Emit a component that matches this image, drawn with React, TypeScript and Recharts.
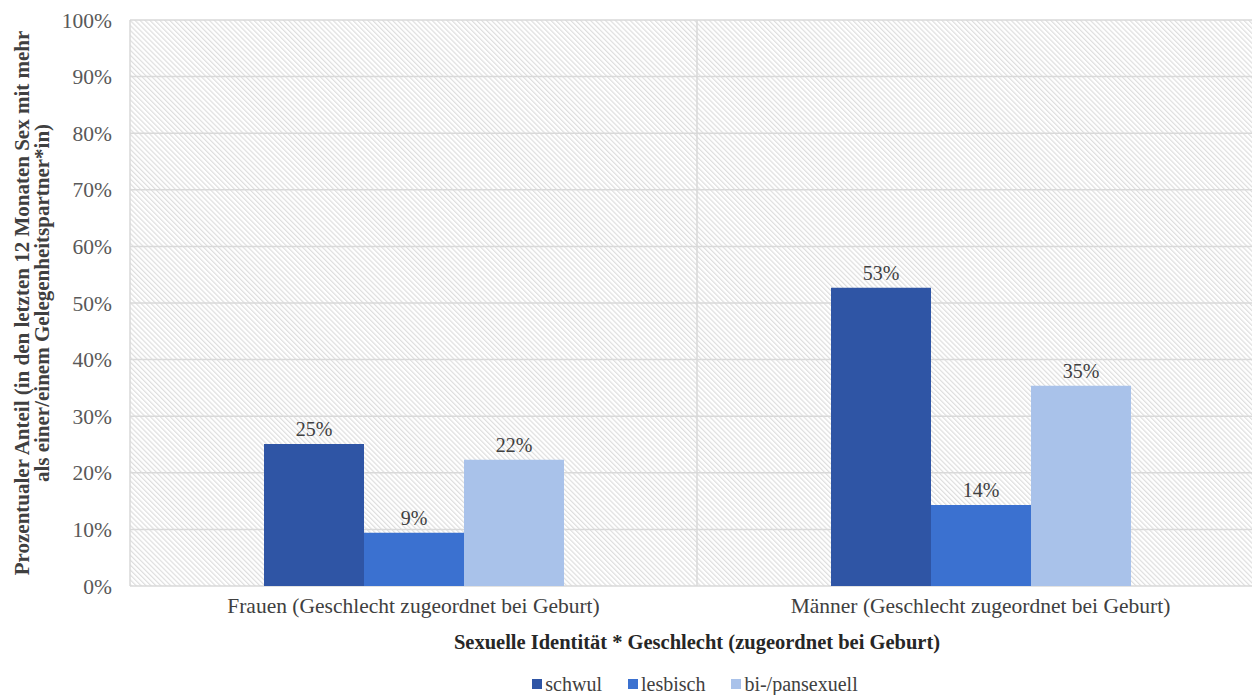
import { BarChart, Bar, XAxis, YAxis, CartesianGrid, Legend, LabelList } from "recharts";

// Kategorien und Werte
const categories = [
  "Frauen (Geschlecht zugeordnet bei Geburt)",
  "Männer (Geschlecht zugeordnet bei Geburt)",
];
const schwul = [25.1, 52.7];
const lesbisch = [9.4, 14.3];
const biPan = [22.3, 35.4];
const yTicks = [0, 10, 20, 30, 40, 50, 60, 70, 80, 90, 100];

const SERIES = [
  { key: "schwul", name: "schwul", color: "#2f55a5" },
  { key: "lesbisch", name: "lesbisch", color: "#3b71d0" },
  { key: "bi", name: "bi-/pansexuell", color: "#a9c2ea" },
];

const data = categories.map((c, i) => ({
  cat: c,
  schwul: schwul[i],
  lesbisch: lesbisch[i],
  bi: biPan[i],
}));

const FONT = '"Liberation Serif", "Times New Roman", serif';

function YTitle(props: any) {
  const { viewBox } = props;
  const cy = viewBox.y + viewBox.height / 2;
  const x = 22;
  return (
    <text
      transform={`rotate(-90, ${x}, ${cy})`}
      x={x}
      y={cy}
      textAnchor="middle"
      fontFamily={FONT}
      fontSize={21}
      fontWeight="bold"
      fill="#404040"
    >
      <tspan x={x} dy="0.35em">Prozentualer Anteil (in den letzten 12 Monaten Sex mit mehr</tspan>
      <tspan x={x} dy="0.95em">als einer/einem Gelegenheitspartner*in)</tspan>
    </text>
  );
}

function LegendBox() {
  return (
    <div
      style={{
        display: "flex",
        justifyContent: "center",
        gap: 26,
        fontFamily: FONT,
        fontSize: 20,
        color: "#404040",
        height: 22,
        alignItems: "center",
      }}
    >
      {SERIES.map((s) => (
        <span key={s.key} style={{ display: "flex", alignItems: "center" }}>
          <span style={{ width: 10, height: 10, background: s.color, marginRight: 3, display: "inline-block" }} />
          {s.name}
        </span>
      ))}
    </div>
  );
}

export default function App() {
  return (
    <div style={{ position: "absolute", left: 0, top: 0, width: 1252, height: 695, overflow: "hidden", background: "#fff" }}>
      <BarChart
        width={1280}
        height={695}
        data={data}
        margin={{ top: 20, right: 16, bottom: 0, left: 60 }}
        barGap={0}
        barSize={100}
      >
        <defs>
          <pattern id="hatch" patternUnits="userSpaceOnUse" width="3.5" height="3.5" patternTransform="rotate(-45)">
            <rect x="0" y="0" width="3.5" height="3.5" fill="#ffffff" />
            <rect x="0" y="0" width="1.2" height="3.5" fill="#dedede" />
          </pattern>
        </defs>
        <CartesianGrid
          fill="url(#hatch)"
          stroke="#d9d9d9"
          strokeWidth={1.5}
          verticalCoordinatesGenerator={({ offset }: any) => [
            offset.left,
            offset.left + offset.width / 2,
            offset.left + offset.width,
          ]}
        />
        <XAxis
          dataKey="cat"
          axisLine={false}
          tickLine={false}
          tickSize={0}
          tickMargin={12}
          height={87}
          interval={0}
          tick={{ fontFamily: FONT, fontSize: 21.5, fill: "#404040" }}
          label={{
            value: "Sexuelle Identität * Geschlecht (zugeordnet bei Geburt)",
            position: "insideBottom",
            offset: 24,
            style: { fontFamily: FONT, fontSize: 20.5, fontWeight: "bold", fill: "#262626" },
          }}
        />
        <YAxis
          width={70}
          domain={[0, 100]}
          ticks={yTicks}
          axisLine={false}
          tickLine={false}
          tickSize={0}
          tickMargin={18}
          tickFormatter={(v: number) => `${v}%`}
          tick={{ fontFamily: FONT, fontSize: 21.5, fill: "#595959" }}
          label={<YTitle />}
        />
        <Legend
          verticalAlign="bottom"
          content={<LegendBox />}
          wrapperStyle={{ left: 0, width: 1390 }}
        />
        {SERIES.map((s) => (
          <Bar key={s.key} dataKey={s.key} name={s.name} fill={s.color} isAnimationActive={false}>
            <LabelList
              dataKey={s.key}
              position="top"
              offset={8}
              formatter={(v: any) => `${Math.round(Number(v))}%`}
              style={{ fontFamily: FONT, fontSize: 20, fill: "#404040" }}
            />
          </Bar>
        ))}
      </BarChart>
    </div>
  );
}
